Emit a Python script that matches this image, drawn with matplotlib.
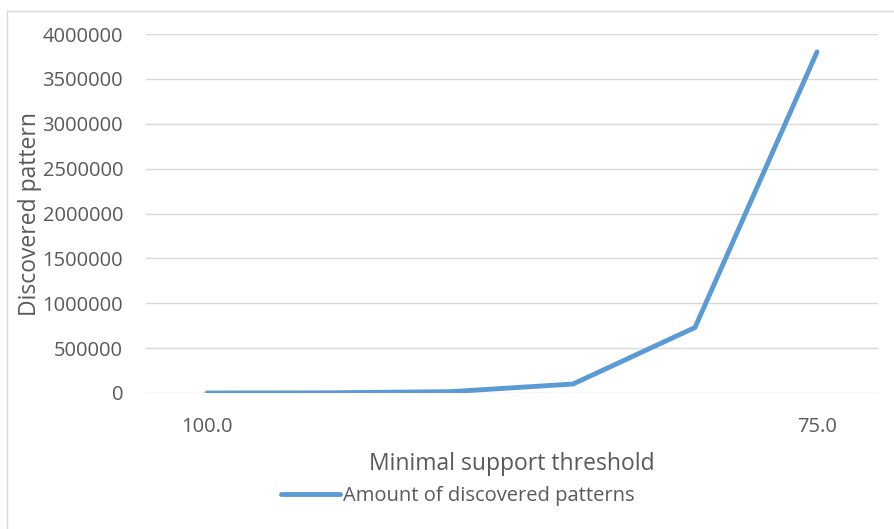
import matplotlib
matplotlib.use("Agg")
from matplotlib import pyplot as plt
from matplotlib.patches import Rectangle

# minimal support threshold categories and number of discovered patterns
thresholds = [100.0, 95.0, 90.0, 85.0, 80.0, 75.0]
patterns = [200, 2000, 15000, 100000, 730000, 3800000]
tick_labels = ["100.0", "", "", "", "", "75.0"]
yticks = [0, 500000, 1000000, 1500000, 2000000, 2500000, 3000000, 3500000, 4000000]

W, H = 894, 529
plt.rcParams['font.family'] = ['Open Sans', 'DejaVu Sans']

fig = plt.figure(figsize=(W / 100, H / 100), dpi=100)

# outer chart border
fig.patches.append(Rectangle((7 / W, -0.1), 1.0, 1.1 - 11 / H, transform=fig.transFigure,
                             fill=False, edgecolor='#D9D9D9', linewidth=1.0))

ax = fig.add_axes([146 / W, 1 - 393 / H, (878 - 146) / W, (393 - 34) / H])
xs = list(range(len(thresholds)))
ax.plot(xs, patterns, color='#5B9BD5', linewidth=3.5, solid_capstyle='round',
        solid_joinstyle='round', label='Amount of discovered patterns', zorder=3)

ax.set_xlim(-0.5, len(thresholds) - 0.5)
ax.set_ylim(0, 4000000)
ax.set_yticks(yticks)
ax.set_yticklabels([str(v) for v in yticks])
ax.set_xticks(xs)
ax.set_xticklabels(tick_labels)
ax.grid(axis='y', color='#D9D9D9', linewidth=1.0)
ax.set_axisbelow(True)
for s in ax.spines.values():
    s.set_visible(False)
ax.tick_params(axis='both', length=0, labelsize=14.5, labelcolor='#595959')
ax.tick_params(axis='y', pad=16.5)
ax.tick_params(axis='x', pad=17)

fig.text(30 / W, 1 - 214 / H, 'Discovered pattern', rotation=90, ha='center', va='center',
         fontsize=16.5, color='#595959')
fig.text(512 / W, 1 - 464 / H, 'Minimal support threshold', ha='center', va='center',
         fontsize=16.5, color='#595959')

fig.legend(loc='center', bbox_to_anchor=(458 / W, 1 - 496 / H), frameon=False,
           fontsize=14.5, labelcolor='#595959', handlelength=2.9, handletextpad=0.15)

fig.savefig('out.png', dpi=100)
